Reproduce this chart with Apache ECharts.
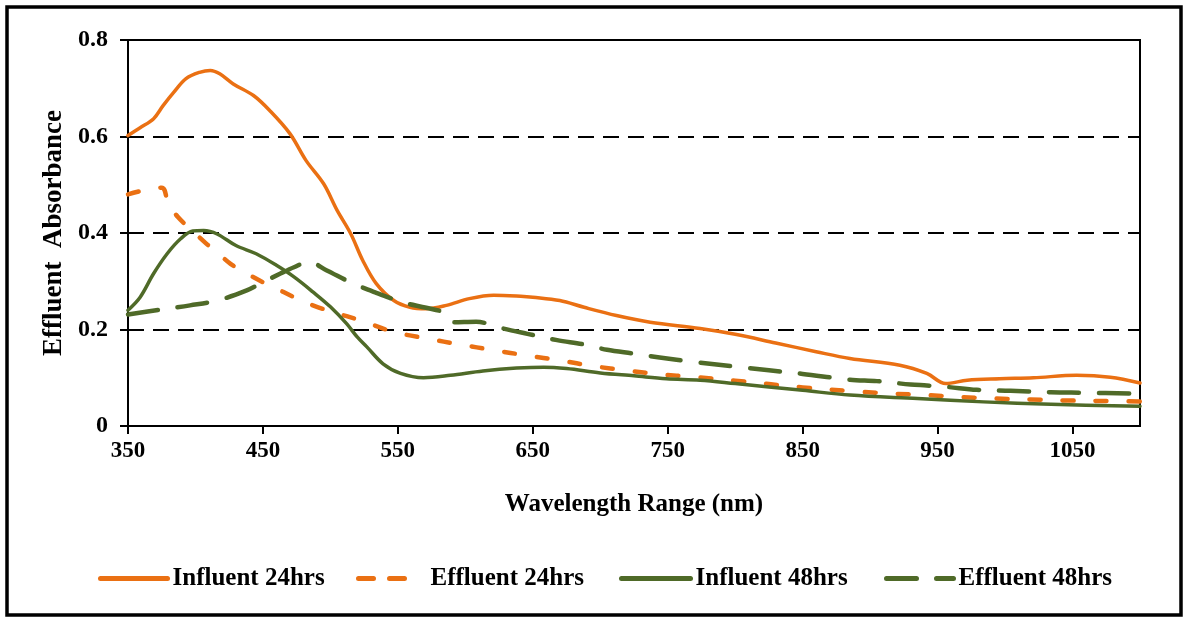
<!DOCTYPE html>
<html>
<head>
<meta charset="utf-8">
<script src="https://cdn.jsdelivr.net/npm/echarts@6/dist/echarts.min.js"></script>
<style>
  html, body { margin: 0; padding: 0; background: #fff; }
  #chart { width: 1188px; height: 621px; }
</style>
</head>
<body>
<div id="chart"></div>
<script>
// Absorbance spectra (wavelength in nm, absorbance)
const influent24Wl = [350, 359, 369, 376, 384, 393, 403, 411, 418, 428, 443, 455, 470, 482, 495, 505, 515, 524, 534, 547, 559, 571, 586, 603, 621, 641, 650, 670, 688, 712, 737, 774, 800, 830, 860, 885, 922, 942, 956, 972, 996, 1021, 1053, 1078, 1100];
const influent24Abs = [0.602, 0.618, 0.637, 0.664, 0.692, 0.720, 0.733, 0.737, 0.730, 0.709, 0.685, 0.654, 0.606, 0.550, 0.502, 0.447, 0.399, 0.343, 0.295, 0.260, 0.246, 0.243, 0.250, 0.264, 0.271, 0.269, 0.267, 0.260, 0.246, 0.229, 0.215, 0.202, 0.190, 0.172, 0.154, 0.140, 0.126, 0.109, 0.088, 0.095, 0.098, 0.100, 0.105, 0.101, 0.089];

const effluent24Wl = [350, 361, 375, 380, 387, 396, 408, 416, 426, 438, 450, 460, 473, 487, 502, 522, 547, 572, 596, 621, 646, 670, 695, 720, 744, 769, 800, 850, 893, 917, 942, 967, 992, 1019, 1043, 1068, 1100];
const effluent24Abs = [0.480, 0.488, 0.494, 0.461, 0.433, 0.409, 0.378, 0.360, 0.336, 0.316, 0.298, 0.285, 0.267, 0.250, 0.236, 0.219, 0.195, 0.181, 0.169, 0.157, 0.146, 0.136, 0.124, 0.115, 0.107, 0.102, 0.094, 0.080, 0.071, 0.067, 0.064, 0.060, 0.057, 0.055, 0.053, 0.052, 0.051];

const influent48Wl = [350, 359, 369, 379, 389, 398, 406, 416, 430, 445, 460, 473, 487, 500, 512, 520, 527, 539, 552, 569, 589, 613, 638, 658, 675, 700, 725, 749, 774, 800, 850, 885, 935, 984, 1034, 1100];
const influent48Abs = [0.240, 0.267, 0.316, 0.357, 0.388, 0.404, 0.405, 0.398, 0.374, 0.357, 0.333, 0.309, 0.278, 0.247, 0.212, 0.184, 0.164, 0.129, 0.109, 0.100, 0.105, 0.114, 0.120, 0.122, 0.119, 0.110, 0.104, 0.098, 0.095, 0.088, 0.074, 0.064, 0.057, 0.050, 0.045, 0.041];

const effluent48Wl = [350, 374, 396, 416, 438, 450, 463, 473, 484, 497, 517, 534, 554, 571, 584, 591, 608, 628, 646, 668, 688, 705, 725, 744, 769, 800, 850, 885, 905, 930, 942, 957, 979, 1004, 1034, 1058, 1100];
const effluent48Abs = [0.231, 0.241, 0.250, 0.260, 0.281, 0.298, 0.316, 0.329, 0.340, 0.323, 0.295, 0.276, 0.256, 0.245, 0.235, 0.215, 0.216, 0.202, 0.191, 0.178, 0.169, 0.158, 0.150, 0.142, 0.133, 0.123, 0.108, 0.096, 0.093, 0.086, 0.084, 0.081, 0.075, 0.073, 0.070, 0.069, 0.067];

const xTickValues = [350, 450, 550, 650, 750, 850, 950, 1050];
const seriesNames = ['Influent 24hrs', 'Effluent 24hrs', 'Influent 48hrs', 'Effluent 48hrs'];

const ORANGE = '#EA7013';
const GREEN = '#4F6A28';
const FONT = "'Liberation Serif', 'Times New Roman', serif";

const zip = (xs, ys) => xs.map((x, i) => [x, ys[i]]);

function lineSeries(name, xs, ys, color, dash, width) {
  return {
    name: name,
    type: 'line',
    data: zip(xs, ys),
    smooth: 0.35,
    symbol: 'none',
    showSymbol: false,
    clip: true,
    lineStyle: { color: color, width: width, type: dash, cap: 'round', join: 'round' },
    itemStyle: { color: color }
  };
}

function legendAt(name, left, width, dash, color, textGap) {
  return {
    data: [name],
    left: left,
    top: 566,
    padding: 0,
    itemWidth: width,
    itemHeight: 14,
    selectedMode: false,
    itemStyle: { opacity: 0, borderWidth: 0 },
    textStyle: { fontFamily: FONT, fontWeight: 'bold', fontSize: 25, color: '#000', padding: [0, 0, 0, textGap] },
    lineStyle: { width: 5, type: dash, cap: 'round', color: color }
  };
}

const chart = echarts.init(document.getElementById('chart'), null, { renderer: 'canvas' });

chart.setOption({
  animation: false,
  backgroundColor: '#fff',
  grid: {
    left: 128, right: 48, top: 40, bottom: 195,
    show: true, borderColor: '#000', borderWidth: 2, backgroundColor: 'transparent'
  },
  xAxis: {
    type: 'value',
    min: 350, max: 1100, interval: 100,
    name: 'Wavelength Range (nm)',
    nameLocation: 'middle',
    nameGap: 66,
    nameTextStyle: { fontFamily: FONT, fontWeight: 'bold', fontSize: 25, color: '#000' },
    axisLine: { show: true, onZero: false, lineStyle: { color: '#000', width: 2 } },
    axisTick: { show: true, length: 8, customValues: xTickValues, lineStyle: { color: '#000', width: 2 } },
    axisLabel: {
      customValues: xTickValues, margin: 14,
      formatter: v => String(v),
      fontFamily: FONT, fontWeight: 'bold', fontSize: 23, color: '#000'
    },
    splitLine: { show: false }
  },
  yAxis: {
    type: 'value',
    min: 0, max: 0.8, interval: 0.2,
    name: 'Effluent  Absorbance',
    nameLocation: 'middle',
    nameGap: 60,
    nameTextStyle: { fontFamily: FONT, fontWeight: 'bold', fontSize: 27, color: '#000' },
    axisLine: { show: true, onZero: false, lineStyle: { color: '#000', width: 2 } },
    axisTick: { show: true, length: 8, lineStyle: { color: '#000', width: 2 } },
    axisLabel: { margin: 20, fontFamily: FONT, fontWeight: 'bold', fontSize: 24, color: '#000' },
    splitLine: { show: true, lineStyle: { color: '#000', width: 2, type: [16, 9] } }
  },
  legend: [
    legendAt(seriesNames[0], 98, 67, 'solid', ORANGE, 0),
    legendAt(seriesNames[1], 356, 52, [15, 16], ORANGE, 15),
    legendAt(seriesNames[2], 619, 69, 'solid', GREEN, 0),
    legendAt(seriesNames[3], 884, 67, [30, 20], GREEN, 0)
  ],
  graphic: [{
    type: 'rect',
    shape: { x: 7, y: 7, width: 1174, height: 608 },
    style: { fill: 'none', stroke: '#000', lineWidth: 3.5 },
    silent: true,
    z: 100
  }],
  series: [
    lineSeries(seriesNames[0], influent24Wl, influent24Abs, ORANGE, 'solid', 3.5),
    lineSeries(seriesNames[1], effluent24Wl, effluent24Abs, ORANGE, [11, 22], 4.5),
    lineSeries(seriesNames[2], influent48Wl, influent48Abs, GREEN, 'solid', 3.5),
    lineSeries(seriesNames[3], effluent48Wl, effluent48Abs, GREEN, [30, 20], 4.5)
  ]
});
</script>
</body>
</html>
